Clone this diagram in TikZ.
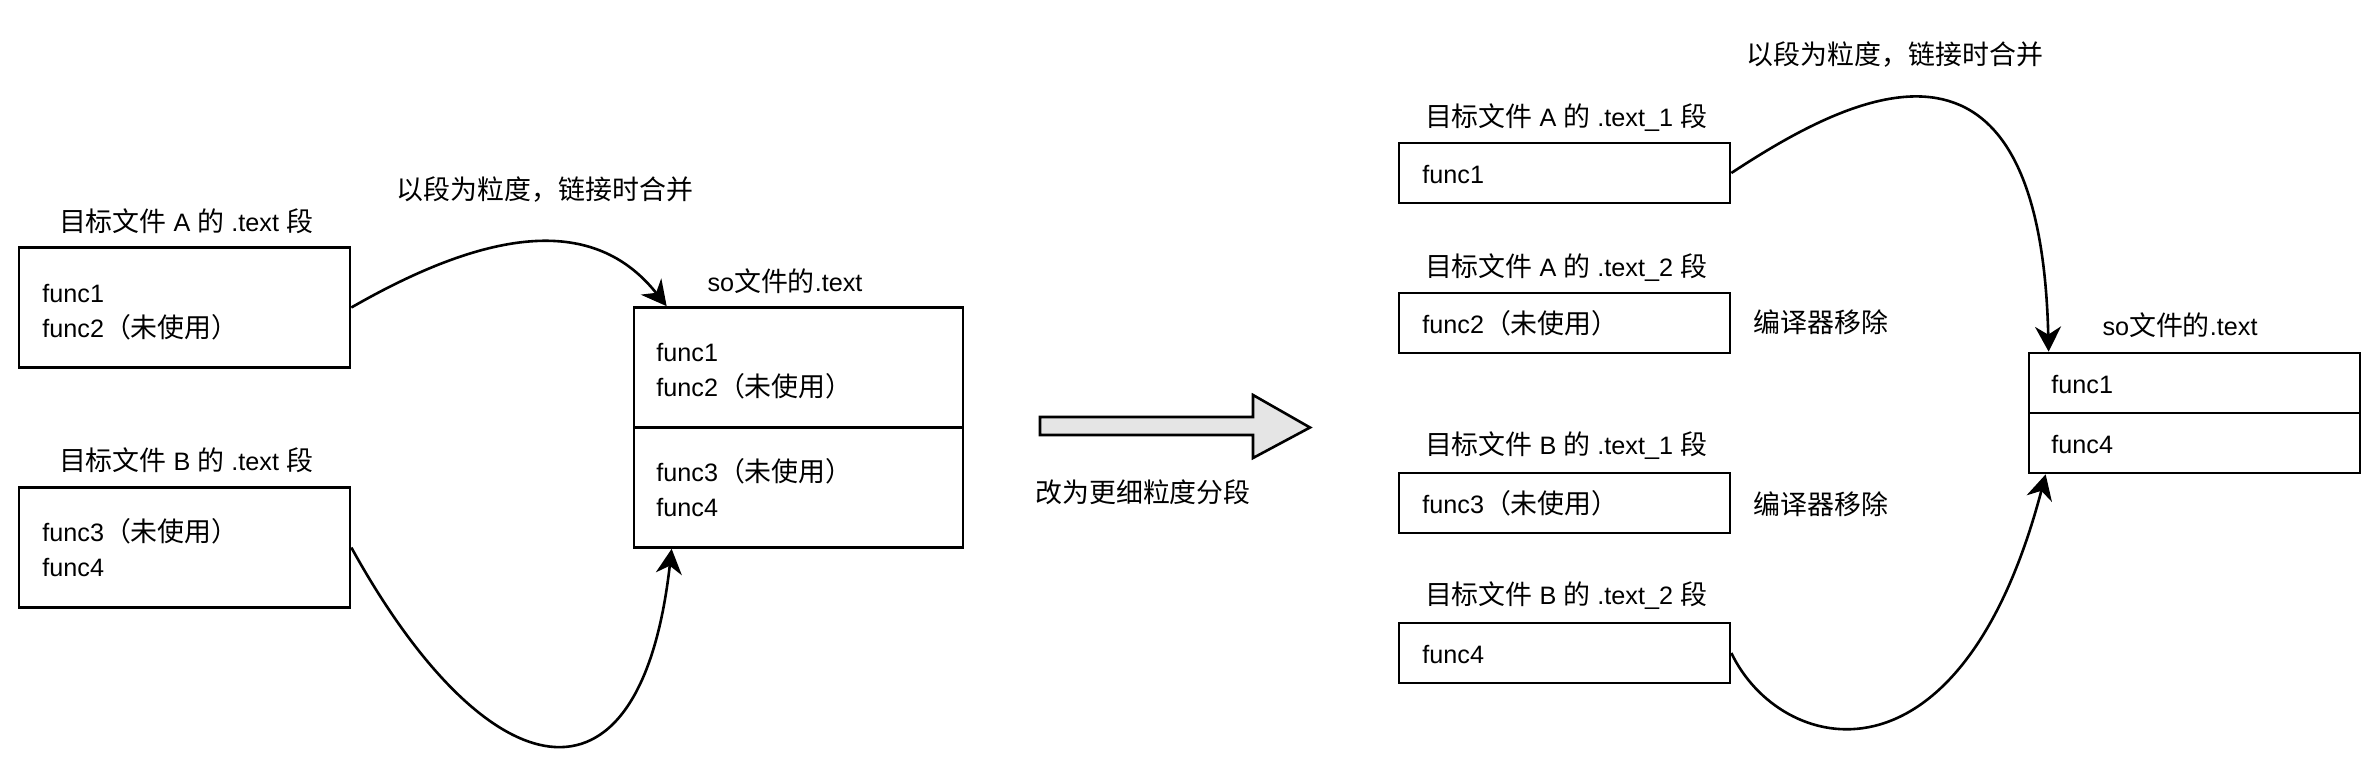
\documentclass[tikz,border=0pt]{standalone}
\usepackage{fontspec}
\setmainfont{Liberation Sans}
\newfontfamily\cjk{Noto Sans CJK SC}[Scale=1.068]
\usetikzlibrary{arrows.meta,calc}
\newcommand\myfs{\fontsize{12.6pt}{17.5pt}\selectfont}
\begin{document}
\begin{tikzpicture}[x=0.5pt,y=-0.5pt,
  box/.style={draw=black,line width=1.35pt,rectangle,inner sep=0pt,minimum width=165.5pt},
  tallbox/.style={box,minimum height=60pt},
  flatbox/.style={box,minimum height=30pt},
  lbl/.style={font=\myfs,inner sep=0pt,anchor=base},
  txt/.style={font=\myfs,inner sep=0pt,anchor=base west},
  conn/.style={line width=1.3pt,-{Stealth[length=12.5pt,width=13pt,inset=4pt]}},
  blockarrow/.style={draw=black,line width=1.3pt,fill=black!10,line join=miter}
]
\useasboundingbox (0,0) rectangle (2378,760);

% ---------- left part ----------
\node[tallbox] (A) at (184.5,307.5) {};
\node[tallbox] (B) at (184.5,547.5) {};
\node[tallbox,minimum width=164.5pt] (soL1) at (798.5,367.5) {};
\node[tallbox,minimum width=164.5pt] (soL2) at (798.5,487.5) {};

\node[lbl] (Alab) at (186,231) {{\cjk 目标文件} A {\cjk 的} .text {\cjk 段}};
\node[lbl] (Blab) at (186,470) {{\cjk 目标文件} B {\cjk 的} .text {\cjk 段}};
\node[lbl] (soLlab) at (785,291) {so{\cjk 文件的}.text};
\node[lbl] (mergeL) at (545,199) {{\cjk 以段为粒度，链接时合并}};

\node[txt] (Af1) at (42,302) {func1};
\node[txt] (Af2) at (42,337) {func2{\cjk （未使用）}};
\node[txt] (Bf3) at (42,541) {func3{\cjk （未使用）}};
\node[txt] (Bf4) at (42,576) {func4};
\node[txt] (Lf1) at (656,361) {func1};
\node[txt] (Lf2) at (656,396) {func2{\cjk （未使用）}};
\node[txt] (Lf3) at (656,481) {func3{\cjk （未使用）}};
\node[txt] (Lf4) at (656,516) {func4};

\draw[conn] (A.east) .. controls (502,221) and (599,221) .. ($(soL1.north west)+(34,0)$);
\draw[conn] (B.east) .. controls (485,790) and (640,830) .. ($(soL2.south west)+(39,0)$);

% ---------- middle block arrow ----------
\draw[blockarrow] (1040,417) -- (1253,417) -- (1253,395) -- (1310,427.5)
  -- (1253,458) -- (1253,435) -- (1040,435) -- cycle;
\node[lbl] (refine) at (1143,502) {{\cjk 改为更细粒度分段}};

% ---------- right part ----------
\node[flatbox] (A1) at (1564.5,173) {};
\node[flatbox] (A2) at (1564.5,323) {};
\node[flatbox] (B1) at (1564.5,503) {};
\node[flatbox] (B2) at (1564.5,653) {};
\node[flatbox] (soR1) at (2194.5,383) {};
\node[flatbox] (soR2) at (2194.5,443) {};

\node[lbl] (A1lab) at (1566,126) {{\cjk 目标文件} A {\cjk 的} .text\_1 {\cjk 段}};
\node[lbl] (A2lab) at (1566,276) {{\cjk 目标文件} A {\cjk 的} .text\_2 {\cjk 段}};
\node[lbl] (B1lab) at (1566,454) {{\cjk 目标文件} B {\cjk 的} .text\_1 {\cjk 段}};
\node[lbl] (B2lab) at (1566,604) {{\cjk 目标文件} B {\cjk 的} .text\_2 {\cjk 段}};
\node[lbl] (soRlab) at (2180,335) {so{\cjk 文件的}.text};
\node[lbl] (mergeR) at (1895,64) {{\cjk 以段为粒度，链接时合并}};

\node[txt] (A1f) at (1422,183.5) {func1};
\node[txt] (A2f) at (1422,333.5) {func2{\cjk （未使用）}};
\node[txt] (B1f) at (1422,513.5) {func3{\cjk （未使用）}};
\node[txt] (B2f) at (1422,663.5) {func4};
\node[txt] (Rf1) at (2051,393.5) {func1};
\node[txt] (Rf4) at (2051,453.5) {func4};

\node[txt] (rm1) at (1753,332) {{\cjk 编译器移除}};
\node[txt] (rm2) at (1753,514) {{\cjk 编译器移除}};

\draw[conn] (A1.east) .. controls (1850,95) and (2040,-5) .. ($(soR1.north west)+(21,0)$);
\draw[conn] (B2.east) .. controls (1780,755) and (1960,800) .. ($(soR2.south west)+(18,0)$);
\end{tikzpicture}
\end{document}
